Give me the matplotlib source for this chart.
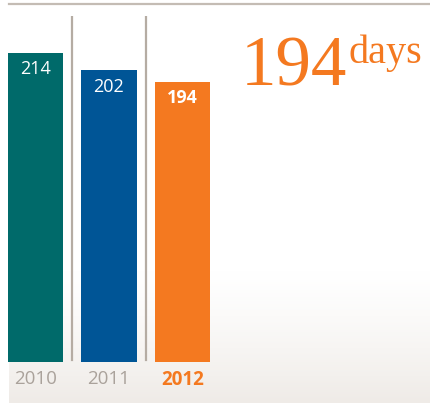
import numpy as np
import matplotlib.pyplot as plt
from matplotlib.colors import LinearSegmentedColormap

years = ["2010", "2011", "2012"]
days = [214, 202, 194]
bar_colors = ["#006a6a", "#005596", "#f47920"]
year_colors = ["#aaa29b", "#aaa29b", "#f47920"]
headline_value = "194"
headline_unit = "days"

W, H = 430, 403
fig = plt.figure(figsize=(W / 100, H / 100), dpi=100)
fig.patch.set_facecolor("white")

def px_rect(x0, y0, x1, y1):
    # pixel box measured from the top-left corner -> figure fraction rect
    return [x0 / W, 1 - y1 / H, (x1 - x0) / W, (y1 - y0) / H]

# soft floor gradient behind the chart
bg = fig.add_axes(px_rect(9, 270, 430, 403), zorder=0)
grad = np.linspace(0, 1, 256).reshape(-1, 1) ** 1.3
cmap = LinearSegmentedColormap.from_list("floor", ["#ffffff", "#efebe7"])
bg.imshow(grad, aspect="auto", cmap=cmap, extent=[0, 1, 0, 1], origin="upper")
bg.axis("off")

# thin rule across the top
fig.add_artist(plt.Line2D([9 / W, 1.0], [1 - 3.5 / H, 1 - 3.5 / H],
                          color="#c4bcb4", lw=1.6))

# bar chart axes: baseline at y=362 px, top at y=16 px
unit_px = 73.5
x_left = -35.5 / unit_px
ax_w = 230
ax = fig.add_axes(px_rect(0, 16, ax_w, 362), zorder=1)
ax.set_facecolor("none")
px_per_day = 1.445
ax.set_xlim(x_left, x_left + ax_w / unit_px)
ax.set_ylim(0, 346 / px_per_day)
ax.axis("off")

xs = np.arange(len(years))
ax.bar(xs, days, width=55 / unit_px, color=bar_colors, zorder=2)

for sep in (0.5, 1.5):
    ax.axvline(sep, ymin=0.006, ymax=1.0, color="#b5aca3", lw=1.6, zorder=1)

for i, (x, v) in enumerate(zip(xs, days)):
    bold = "bold" if i == len(days) - 1 else "normal"
    ax.annotate(str(v), (x, v), xytext=(0, -5.5), textcoords="offset points",
                ha="center", va="top", color="white", fontsize=13,
                family="Open Sans", fontweight=bold)
    ax.annotate(years[i], (x, 0), xytext=(0, -5.5), textcoords="offset points",
                ha="center", va="top", color=year_colors[i], fontsize=13.5,
                family="Open Sans", fontweight=bold, annotation_clip=False)

# headline figure
fig.text(241 / W, 1 - 85.5 / H, headline_value, family="Liberation Serif",
         fontsize=51, color="#f47920", ha="left", va="baseline")
fig.text(348 / W, 1 - 63 / H, headline_unit, family="Liberation Serif",
         fontsize=29, color="#f47920", ha="left", va="baseline")

fig.savefig("out.png", dpi=100, facecolor=fig.get_facecolor())
